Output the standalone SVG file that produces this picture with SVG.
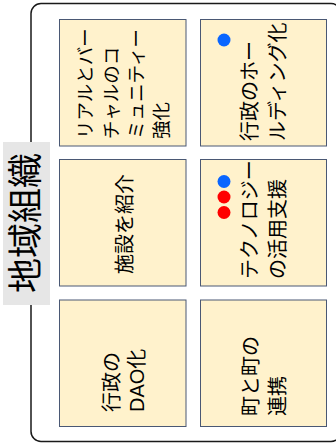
<svg xmlns="http://www.w3.org/2000/svg" width="336" height="443" viewBox="0 0 336 443">
<style>
.card{fill:#fff2cc;stroke:#4a5874;stroke-width:1}
.t{font-family:"Liberation Sans","Noto Sans CJK JP",sans-serif;font-size:20px;fill:#000;dominant-baseline:central;text-anchor:start}
.s{font-size:18.5px}
.blue{fill:#0a66ff}
.red{fill:#ff0000}
</style>
<rect id="frame" x="31" y="3.5" width="310" height="438" rx="10" ry="10" fill="#fff" stroke="#1a1a1a" stroke-width="1.5"/>
<g id="label">
<rect x="3" y="142" width="47" height="163" fill="#e6e6e6"/>
<text transform="translate(25,223) rotate(-90)" font-family="'Liberation Sans','Noto Sans CJK JP',sans-serif" font-size="35" text-anchor="middle" dominant-baseline="central" fill="#000">地域組織</text>
</g>
<g id="n1">
<rect class="card" x="59.5" y="19.5" width="126.5" height="126.5"/>
<text class="t s" transform="translate(85,139) rotate(-90)">リアルとバー</text>
<text class="t s" transform="translate(111,139) rotate(-90)">チャルのコ</text>
<text class="t s" transform="translate(136,139) rotate(-90)">ミュニティー</text>
<text class="t s" transform="translate(161,139) rotate(-90)">強化</text>
</g>
<g id="n2">
<rect class="card" x="200.5" y="19.5" width="126" height="126.5"/>
<circle class="blue" cx="224" cy="40" r="6.5"/>
<text class="t" transform="translate(250,141) rotate(-90)">行政のホー</text>
<text class="t" transform="translate(278,141) rotate(-90)">ルディング化</text>
</g>
<g id="n3">
<rect class="card" x="59.5" y="159.5" width="126.5" height="126.5"/>
<text class="t" transform="translate(125,274) rotate(-90)">施設を紹介</text>
</g>
<g id="n4">
<rect class="card" x="200.5" y="159.5" width="126" height="126.5"/>
<circle class="blue" cx="224" cy="181.5" r="6.5"/>
<circle class="red" cx="224" cy="197" r="6.5"/>
<circle class="red" cx="224" cy="212.5" r="6.5"/>
<text class="t" transform="translate(250,279) rotate(-90)">テクノロジー</text>
<text class="t" transform="translate(278,279) rotate(-90)">の活用支援</text>
</g>
<g id="n5">
<rect class="card" x="59.5" y="300" width="126.5" height="126.5"/>
<text class="t" transform="translate(112,412) rotate(-90)">行政の</text>
<text class="t" transform="translate(137,412) rotate(-90)">DAO化</text>
</g>
<g id="n6">
<rect class="card" x="200.5" y="300" width="126" height="126.5"/>
<text class="t" transform="translate(251,416) rotate(-90)">町と町の</text>
<text class="t" transform="translate(278,416) rotate(-90)">連携</text>
</g>
<g id="connectors"/>
</svg>
